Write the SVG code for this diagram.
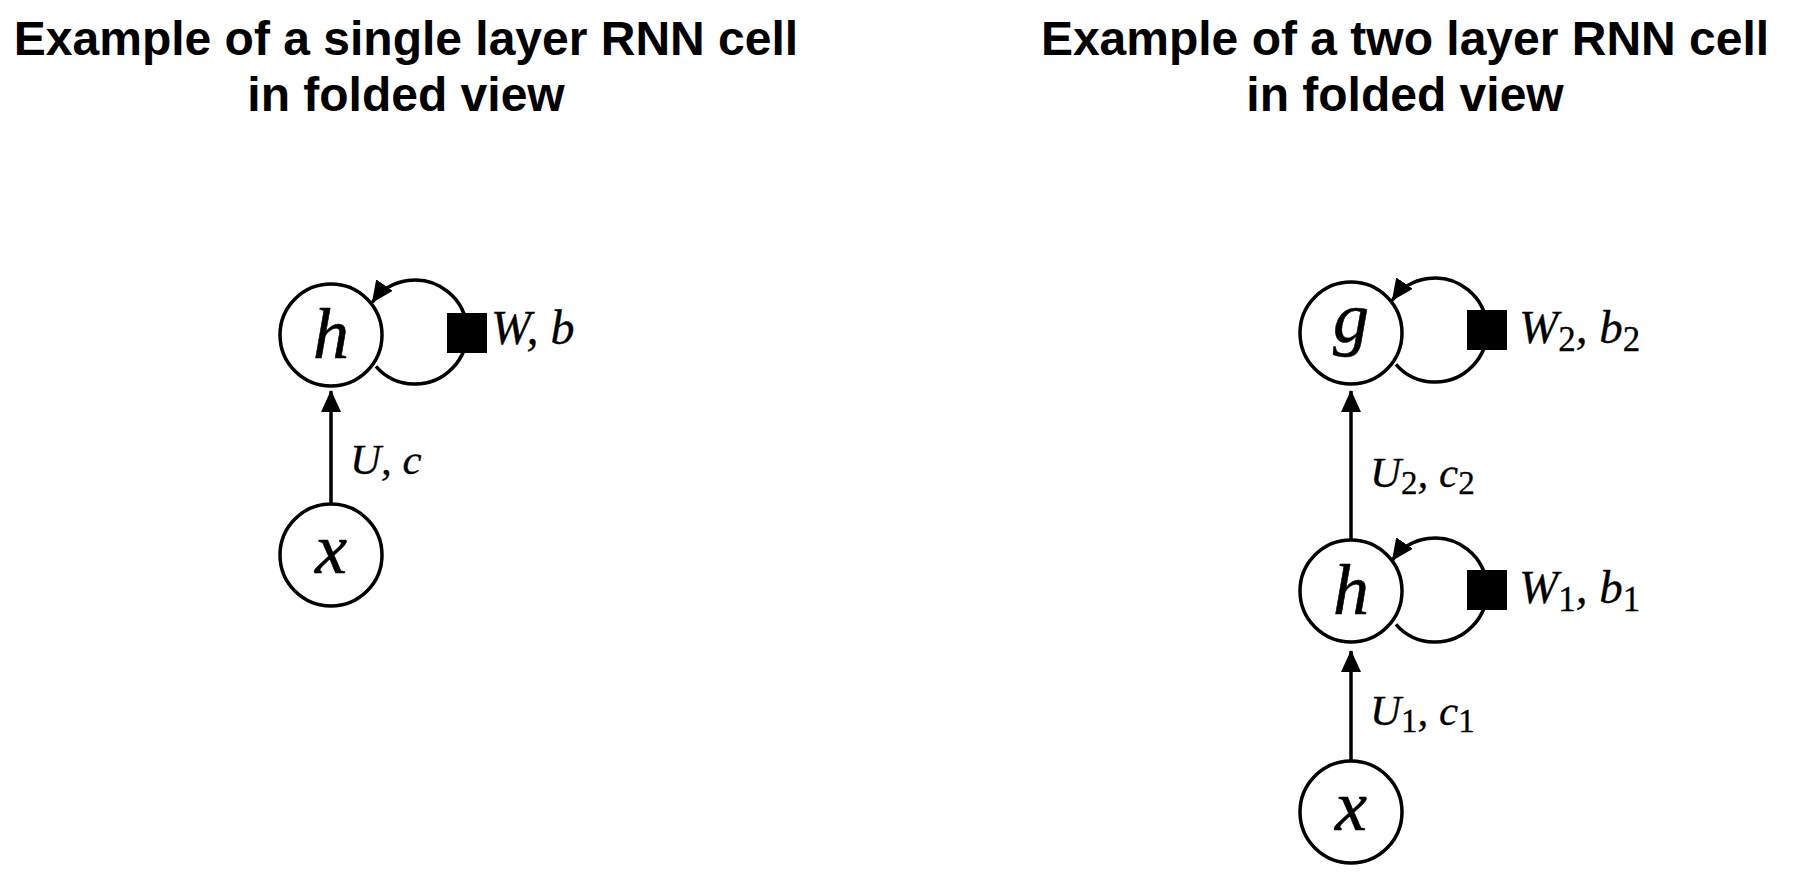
<svg xmlns="http://www.w3.org/2000/svg" width="1794" height="886" viewBox="0 0 1794 886">
<defs>
<marker id="ah" markerUnits="userSpaceOnUse" markerWidth="22" markerHeight="20" viewBox="0 0 22 20" refX="21" refY="10" orient="auto">
<path d="M0,0 L22,10 L0,20 Z" fill="#000"/>
</marker>
<style>
.title{font-family:"Liberation Sans",Arial,sans-serif;font-weight:bold;font-size:48px;fill:#000;text-anchor:middle}
.node{fill:#fff;stroke:#000;stroke-width:3.5}
.sym{font-family:"Liberation Serif","Times New Roman",serif;font-style:italic;font-size:72px;fill:#000;stroke:#000;stroke-width:0.6;text-anchor:middle}
.lbl{font-family:"Liberation Serif","Times New Roman",serif;font-style:italic;fill:#000;stroke:#000;stroke-width:0.3}
.sub{font-style:normal}
.edge{fill:none;stroke:#000;stroke-width:3.5;marker-end:url(#ah)}
.sq{fill:#000}
</style>
</defs>
<rect width="1794" height="886" fill="#fff"/>
<g id="titles">
<text class="title" x="406" y="55">Example of a single layer RNN cell</text>
<text class="title" x="406" y="111">in folded view</text>
<text class="title" x="1405" y="55">Example of a two layer RNN cell</text>
<text class="title" x="1405" y="111">in folded view</text>
</g>
<g id="connectors">
<path class="edge" d="M331,504 L331,391"/>
<path class="edge" d="M375.9,366.3 A52,52 0 1 0 372.4,302.3"/>
<path class="edge" d="M1351,539 L1351,391"/>
<path class="edge" d="M1351,761 L1351,651"/>
<path class="edge" d="M1395.9,364.3 A52,52 0 1 0 1392.4,300.3"/>
<path class="edge" d="M1395.9,624.3 A52,52 0 1 0 1392.4,560.3"/>
</g>
<g id="single-h">
<circle class="node" cx="331" cy="335" r="51"/>
<text class="sym" x="331" y="358">h</text>
</g>
<g id="single-x">
<circle class="node" cx="331" cy="555" r="51"/>
<text class="sym" x="331" y="573">x</text>
</g>
<g id="single-w">
<rect class="sq" x="447" y="313" width="40" height="40"/>
<text class="lbl" x="491" y="344" font-size="48">W, b</text>
</g>
<g id="single-u">
<text class="lbl" x="350" y="474" font-size="43">U, c</text>
</g>
<g id="two-g">
<circle class="node" cx="1351" cy="333" r="51"/>
<text class="sym" x="1351" y="342">g</text>
</g>
<g id="two-h">
<circle class="node" cx="1351" cy="591" r="51"/>
<text class="sym" x="1351" y="614">h</text>
</g>
<g id="two-x">
<circle class="node" cx="1351" cy="812" r="51"/>
<text class="sym" x="1351" y="830">x</text>
</g>
<g id="two-w2">
<rect class="sq" x="1467" y="310" width="40" height="40"/>
<text class="lbl" x="1519" y="343" font-size="47">W<tspan class="sub" font-size="35" dy="8">2</tspan><tspan dy="-8">, b</tspan><tspan class="sub" font-size="35" dy="8">2</tspan></text>
</g>
<g id="two-w1">
<rect class="sq" x="1467" y="570" width="40" height="40"/>
<text class="lbl" x="1519" y="603" font-size="47">W<tspan class="sub" font-size="35" dy="8">1</tspan><tspan dy="-8">, b</tspan><tspan class="sub" font-size="35" dy="8">1</tspan></text>
</g>
<g id="two-u2">
<text class="lbl" x="1370" y="487" font-size="43">U<tspan class="sub" font-size="33" dy="7">2</tspan><tspan dy="-7">, c</tspan><tspan class="sub" font-size="33" dy="7">2</tspan></text>
</g>
<g id="two-u1">
<text class="lbl" x="1370" y="725" font-size="43">U<tspan class="sub" font-size="33" dy="7">1</tspan><tspan dy="-7">, c</tspan><tspan class="sub" font-size="33" dy="7">1</tspan></text>
</g>
</svg>
